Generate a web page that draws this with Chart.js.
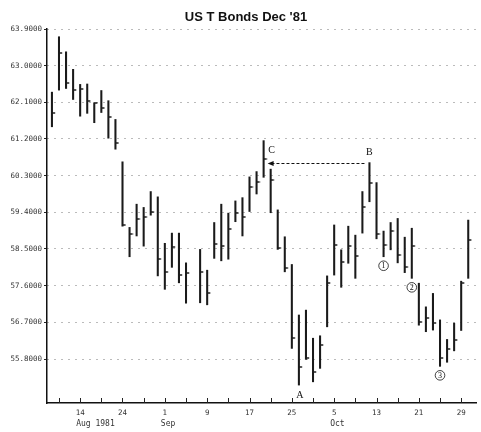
<!DOCTYPE html>
<html><head><meta charset="utf-8">
<script src="https://cdn.jsdelivr.net/npm/chart.js@4"></script>
<style>html,body{margin:0;padding:0;background:#fff}#wrap{width:481px;height:432px}</style>
</head><body><div id="wrap"><canvas id="c" width="481" height="432"></canvas></div>
<script>
// trading-day index (0 = Aug 10 1981); index 20 = Labor Day, no trading
const dayIndex = [0,1,2,3,4,5,6,7,8,9,10,11,12,13,14,15,16,17,18,19,21,22,23,24,25,26,27,28,29,30,31,32,33,34,35,36,37,38,39,40,41,42,43,44,45,46,47,48,49,50,51,52,53,54,55,56,57,58,59];
const highs = [62.35,63.71,63.34,62.91,62.54,62.55,62.09,62.39,62.14,61.68,60.64,59.03,59.60,59.52,59.91,59.78,58.64,58.89,58.89,58.16,58.49,57.98,59.15,59.60,59.38,59.68,59.76,60.27,60.40,61.16,60.46,59.46,58.80,58.12,56.88,57.00,56.31,56.37,57.84,59.09,58.48,59.06,58.84,59.91,60.62,60.13,58.94,59.15,59.25,58.79,59.01,57.66,57.08,57.41,56.76,56.28,56.68,57.71,59.21];
const lows = [61.50,62.40,62.44,62.17,61.76,61.83,61.60,61.85,61.22,60.95,59.06,58.31,58.82,58.57,59.33,57.84,57.51,58.05,57.67,57.17,57.18,57.13,58.27,58.21,58.25,59.17,58.82,59.42,59.85,60.26,59.39,58.49,57.94,56.06,55.16,55.79,55.24,55.57,56.59,57.86,57.56,58.15,57.78,58.89,59.66,58.75,58.31,58.48,58.16,57.92,57.78,56.63,56.47,56.51,55.62,55.72,56.00,56.50,57.78];
const closes = [61.83,63.32,62.57,62.40,62.42,62.13,62.08,61.95,61.75,61.10,59.09,58.86,59.24,59.28,59.42,58.25,57.93,58.56,57.86,57.90,57.93,57.43,58.62,58.57,59.00,59.38,59.28,60.03,60.15,60.70,60.19,58.52,58.03,56.32,55.61,55.82,55.49,56.14,57.66,58.60,58.19,58.57,58.33,59.54,60.13,58.86,58.60,58.95,58.35,58.07,58.57,56.70,56.80,56.69,55.82,56.05,56.27,57.66,58.71];
const yTickValues = [63.9,63.0,62.1,61.2,60.3,59.4,58.5,57.6,56.7,55.8];
const xTickIndex = [1,4,7,10,13,16,19,22,25,28,31,34,37,40,43,46,49,52,55,58];
const xLabelIndex = [4,10,16,22,28,34,40,46,52,58];
const xLabelText = ['14','24','1','9','17','25','5','13','21','29'];
const monthIndex = [4,16,40];
const monthText = ['Aug 1981','Sep','Oct'];
const titleText = "US T Bonds Dec '81";
const letterText = ['A','B','C'];
const letterDay = [35,45,30];
const circleText = ['1','2','3'];
const circleDay = [47,51,55];

const tickImg = document.createElement('canvas');
tickImg.width = 8; tickImg.height = 2;
(function(){const g = tickImg.getContext('2d'); g.fillStyle = '#111'; g.fillRect(4,0.3,3.2,1.4);})();

const decor = {
  id: 'decor',
  afterDraw(chart) {
    const ctx = chart.ctx, xs = chart.scales.x, ys = chart.scales.y, a = chart.chartArea;
    ctx.save();
    // title
    ctx.fillStyle = '#111'; ctx.font = 'bold 13px "Liberation Sans"';
    ctx.textAlign = 'center'; ctx.textBaseline = 'middle';
    ctx.fillText(titleText, 246, 17);
    // inward ticks on x axis
    ctx.strokeStyle = '#222'; ctx.lineWidth = 1;
    xTickIndex.forEach(v => {
      const px = Math.round(xs.getPixelForValue(v)) + 0.5;
      ctx.beginPath(); ctx.moveTo(px, a.bottom); ctx.lineTo(px, a.bottom - 5); ctx.stroke();
    });
    // month labels
    ctx.fillStyle = '#333'; ctx.font = '8px "DejaVu Sans Mono"';
    ctx.textAlign = 'left'; ctx.textBaseline = 'middle';
    monthIndex.forEach((v, k) => ctx.fillText(monthText[k], xs.getPixelForValue(v) - 4, 424));
    // letters
    ctx.fillStyle = '#111'; ctx.font = '10px "Liberation Serif"'; ctx.textAlign = 'center';
    letterText.forEach((t, k) => {
      const i = dayIndex.indexOf(letterDay[k]);
      const px = xs.getPixelForValue(letterDay[k]);
      if (t === 'A') ctx.fillText(t, px + 1, ys.getPixelForValue(lows[i]) + 10);
      else if (t === 'B') ctx.fillText(t, px, ys.getPixelForValue(highs[i]) - 10);
      else ctx.fillText(t, px + 8, ys.getPixelForValue(highs[i]) + 10);
    });
    // dashed arrow from B back to C
    const iB = dayIndex.indexOf(letterDay[1]);
    const yA = Math.round(ys.getPixelForValue(highs[iB])) + 0.5;
    const xStart = xs.getPixelForValue(letterDay[1]) - 5;
    const xEnd = xs.getPixelForValue(letterDay[2]) + 4;
    ctx.setLineDash([3,2]); ctx.lineWidth = 1; ctx.strokeStyle = '#111';
    ctx.beginPath(); ctx.moveTo(xStart, yA); ctx.lineTo(xEnd + 5, yA); ctx.stroke();
    ctx.setLineDash([]);
    ctx.beginPath(); ctx.moveTo(xEnd, yA); ctx.lineTo(xEnd + 6, yA - 2.5); ctx.lineTo(xEnd + 6, yA + 2.5); ctx.closePath(); ctx.fill();
    // circled numbers
    ctx.font = '8px "Liberation Serif"'; ctx.lineWidth = 0.8;
    circleText.forEach((t, k) => {
      const i = dayIndex.indexOf(circleDay[k]);
      const cx = xs.getPixelForValue(circleDay[k]);
      const cy = ys.getPixelForValue(lows[i]) + 9;
      ctx.beginPath(); ctx.arc(cx, cy, 4.8, 0, Math.PI * 2); ctx.stroke();
      ctx.fillText(t, cx, cy + 0.5);
    });
    ctx.restore();
  }
};

new Chart(document.getElementById('c'), {
  type: 'bar',
  data: {
    datasets: [
      {
        type: 'bar',
        label: 'High-Low',
        data: dayIndex.map((d, i) => ({x: d, y: [lows[i], highs[i]]})),
        backgroundColor: '#1a1a1a',
        borderWidth: 0,
        barThickness: 1.4
      },
      {
        type: 'line',
        label: 'Close',
        data: dayIndex.map((d, i) => ({x: d, y: closes[i]})),
        showLine: false,
        pointStyle: tickImg,
        pointRadius: 2,
        pointHoverRadius: 2
      }
    ]
  },
  options: {
    responsive: false,
    animation: false,
    devicePixelRatio: 1,
    layout: {padding: {left: 0, right: 5, top: 29, bottom: 0}},
    plugins: {
      legend: {display: false},
      tooltip: {enabled: false},
      title: {display: false}
    },
    scales: {
      x: {
        type: 'linear', min: -0.7, max: 60.1, offset: false,
        afterBuildTicks: s => { s.ticks = xTickIndex.map(v => ({value: v})); },
        afterFit: s => { s.height = 29; },
        ticks: {
          autoSkip: false, maxRotation: 0, padding: 6,
          callback: v => { const k = xLabelIndex.indexOf(v); return k >= 0 ? xLabelText[k] : ''; },
          font: {family: 'DejaVu Sans Mono', size: 7.5}, color: '#333'
        },
        grid: {display: true, drawOnChartArea: false, drawTicks: false},
        border: {display: true, color: '#111', width: 1.5}
      },
      y: {
        min: 54.72, max: 63.9,
        afterBuildTicks: s => { s.ticks = yTickValues.map(v => ({value: v})); },
        afterFit: s => { s.width = 47; },
        ticks: {
          callback: v => Number(v).toFixed(4),
          font: {family: 'DejaVu Sans Mono', size: 7.5}, color: '#333', padding: 2
        },
        grid: {color: '#777', lineWidth: 1, drawTicks: true, tickLength: 3, tickColor: '#222', tickWidth: 1},
        border: {display: true, color: '#111', width: 1.5, dash: [1, 6]}
      }
    }
  },
  plugins: [decor]
});
</script>
</body></html>
